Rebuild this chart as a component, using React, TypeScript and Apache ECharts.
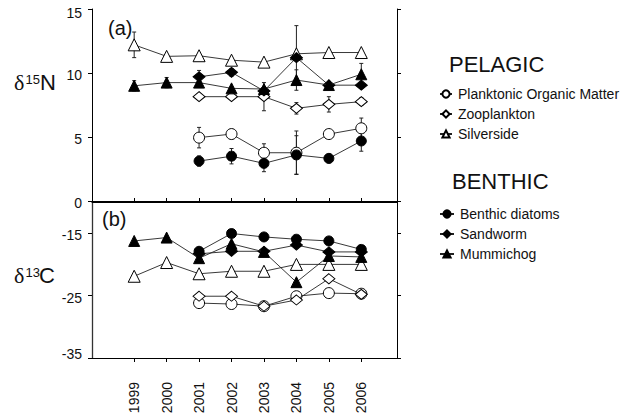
import React, { useEffect, useRef } from 'react';
import * as echarts from 'echarts';

// ---- data ----
const years = [1999, 2000, 2001, 2002, 2003, 2004, 2005, 2006];
const pelagicNames = ['Planktonic Organic Matter', 'Zooplankton', 'Silverside'];
const benthicNames = ['Benthic diatoms', 'Sandworm', 'Mummichog'];

// δ15N (panel a)
const pomN = [null, null, 4.95, 5.23, 3.77, 3.77, 5.23, 5.68];
const zooN = [null, null, 8.15, 8.15, 8.15, 7.24, 7.55, 7.76];
const silN = [12.2, 11.3, 11.35, 11.0, 10.85, 11.5, 11.6, 11.6];
const diaN = [null, null, 3.12, 3.5, 2.94, 3.6, 3.33, 4.69];
const sanN = [null, null, 9.7, 10.05, 8.6, 11.2, 9.05, 9.05];
const mumN = [9.0, 9.25, 9.25, 8.8, 8.75, 9.45, 9.06, 9.9];

// δ15N error bars (half widths)
const pomNErr = [null, null, 0.8, null, 0.7, 1.7, 0.3, 0.8];
const zooNErr = [null, null, null, null, 1.1, 0.45, 0.6, 0.3];
const silNErr = [1.0, null, null, null, null, 2.2, null, null];
const diaNErr = [null, null, 0.4, 0.6, 0.65, 1.5, 0.35, 0.8];
const sanNErr = [null, null, 0.5, 0.3, null, null, null, null];
const mumNErr = [0.4, 0.4, 0.3, null, null, 0.8, 0.3, 0.85];

// δ13C (panel b)
const pomC = [null, null, -26.2, -26.35, -26.7, -25.1, -24.6, -24.7];
const zooC = [null, null, -25.1, -25.1, -26.7, -25.7, -22.3, -24.8];
const silC = [-21.9, -19.7, -21.5, -21.1, -21.1, -20.0, -20.0, -20.0];
const diaC = [null, null, -17.9, -15.05, -15.6, -15.97, -16.24, -17.6];
const sanC = [null, null, -18.3, -17.9, -17.9, -16.9, -18.0, -18.0];
const mumC = [-16.24, -15.7, -19.0, -16.7, -18.0, -22.85, -18.65, -18.8];

const nTicks = [0, 5, 10, 15];
const cTicks = [-35, -25, -15];

const FONT = 'Liberation Sans, Arial, Helvetica, sans-serif';
const INK = '#111';

type Sty = { symbol: string; fill: string; size: number | number[] };
const styles: Sty[] = [
  { symbol: 'circle', fill: '#fff', size: 11 },
  { symbol: 'diamond', fill: '#fff', size: [12, 10] },
  { symbol: 'triangle', fill: '#fff', size: 12 },
  { symbol: 'circle', fill: '#000', size: 10 },
  { symbol: 'diamond', fill: '#000', size: [12, 10] },
  { symbol: 'triangle', fill: '#000', size: 11 },
];
const names = [...pelagicNames, ...benthicNames];
const nSets = [pomN, zooN, silN, diaN, sanN, mumN];
const nErrs = [pomNErr, zooNErr, silNErr, diaNErr, sanNErr, mumNErr];
const cSets = [pomC, zooC, silC, diaC, sanC, mumC];

const pts = (arr: (number | null)[]) =>
  years.map((y, i) => [y, arr[i]]).filter((p) => p[1] !== null);

export default function App() {
  const ref = useRef<HTMLDivElement>(null);
  useEffect(() => {
    if (!ref.current) return;
    const chart = echarts.init(ref.current, null, { renderer: 'svg' });

    const errData: number[][] = [];
    nSets.forEach((arr, s) => {
      arr.forEach((v, i) => {
        const e = nErrs[s][i];
        if (v !== null && e !== null) errData.push([years[i], v - e, v + e]);
      });
    });

    const axisLine = { show: true, lineStyle: { color: '#000', width: 1 } };
    const xMin = 1997.7;
    const xMax = 2007.1;

    const lineSeries = (grid: number, sets: (number | null)[][]) =>
      sets.map((arr, s) => ({
        type: 'line',
        name: names[s],
        xAxisIndex: grid * 2,
        yAxisIndex: grid * 2,
        data: pts(arr),
        symbol: styles[s].symbol,
        symbolSize: styles[s].size,
        showAllSymbol: true,
        lineStyle: { color: '#222', width: 0.9 },
        itemStyle: { color: styles[s].fill, borderColor: '#000', borderWidth: 1 },
        z: 3 + s,
      }));

    const option: any = {
      animation: false,
      textStyle: { fontFamily: FONT },
      grid: [
        { left: 92, top: 9, width: 305, height: 192 },
        { left: 92, top: 202, width: 305, height: 156 },
      ],
      xAxis: [
        {
          type: 'value', gridIndex: 0, position: 'bottom', min: xMin, max: xMax,
          axisLine, splitLine: { show: false }, axisLabel: { show: false },
          axisTick: { show: true, inside: true, length: 3, customValues: years, lineStyle: { color: '#000' } },
        },
        {
          type: 'value', gridIndex: 0, position: 'top', min: xMin, max: xMax,
          axisLine, splitLine: { show: false }, axisLabel: { show: false },
          axisTick: { show: true, length: 3, customValues: years, lineStyle: { color: '#000' } },
        },
        {
          type: 'value', gridIndex: 1, position: 'bottom', min: xMin, max: xMax,
          axisLine, splitLine: { show: false },
          axisLabel: {
            show: true, rotate: 90, margin: 24, fontSize: 14, color: INK, fontFamily: FONT,
            customValues: years, formatter: (v: number) => String(Math.round(v)),
          },
          axisTick: { show: true, length: 4, customValues: years, lineStyle: { color: '#000' } },
        },
        {
          type: 'value', gridIndex: 1, position: 'top', min: xMin, max: xMax,
          axisLine, splitLine: { show: false }, axisLabel: { show: false },
          axisTick: { show: false },
        },
      ],
      yAxis: [
        {
          type: 'value', gridIndex: 0, position: 'left', min: 0, max: 15, interval: 5,
          axisLine, splitLine: { show: false },
          axisTick: { show: true, length: 4, lineStyle: { color: '#000' } },
          axisLabel: {
            show: true, margin: 10, fontSize: 14, color: INK, fontFamily: FONT,
            formatter: (v: number) => (v === 15 ? '{dn|15}' : '{n|' + v + '}'),
            rich: {
              n: { fontSize: 14, color: INK, fontFamily: FONT, padding: [3, 0, 0, 0] },
              dn: { fontSize: 14, color: INK, fontFamily: FONT, padding: [8, 0, 0, 0] },
            },
          },
        },
        {
          type: 'value', gridIndex: 0, position: 'right', min: 0, max: 15, interval: 5,
          axisLine, splitLine: { show: false }, axisLabel: { show: false },
          axisTick: { show: true, length: 4, lineStyle: { color: '#000' } },
        },
        {
          type: 'value', gridIndex: 1, position: 'left', min: -35, max: -10,
          axisLine: { show: true, lineStyle: { color: '#333', width: 1.3 } }, splitLine: { show: false },
          axisTick: { show: true, length: 4, customValues: cTicks, lineStyle: { color: '#000' } },
          axisLabel: {
            show: true, margin: 10, fontSize: 14, color: INK, fontFamily: FONT,
            customValues: cTicks,
            formatter: (v: number) => (v === -35 ? '{up|-35}' : '{n|' + v + '}'),
            rich: {
              n: { fontSize: 14, color: INK, fontFamily: FONT, padding: [4, 0, 0, 0] },
              up: { fontSize: 14, color: INK, fontFamily: FONT, padding: [0, 0, 9, 0] },
            },
          },
        },
        {
          type: 'value', gridIndex: 1, position: 'right', min: -35, max: -10,
          axisLine, splitLine: { show: false }, axisLabel: { show: false },
          axisTick: { show: true, length: 4, customValues: cTicks, lineStyle: { color: '#000' } },
        },
      ],
      legend: [
        {
          data: pelagicNames, orient: 'vertical', left: 434, top: 82, itemWidth: 12, itemHeight: 9,
          itemGap: 6, selectedMode: false,
          textStyle: { fontSize: 14, color: INK, fontFamily: FONT, padding: [0, 0, 0, 1] },
        },
        {
          data: benthicNames, orient: 'vertical', left: 434, top: 202, itemWidth: 14, itemHeight: 9,
          itemGap: 6, selectedMode: false,
          textStyle: { fontSize: 14, color: INK, fontFamily: FONT, padding: [0, 0, 0, 1] },
        },
      ],
      graphic: [
        { type: 'text', left: 449, top: 53, style: { text: 'PELAGIC', font: '22px ' + FONT, fill: INK } },
        { type: 'text', left: 452, top: 170, style: { text: 'BENTHIC', font: '22px ' + FONT, fill: INK } },
        { type: 'text', x: 108, y: 27.5, style: { text: '(a)', font: '20px ' + FONT, fill: INK, verticalAlign: 'middle' } },
        { type: 'text', x: 102, y: 218.5, style: { text: '(b)', font: '20px ' + FONT, fill: INK, verticalAlign: 'middle' } },
        { type: 'text', x: 14, y: 82.5, style: { text: 'δ', font: '22px Liberation Serif, Times New Roman, serif', fill: INK, verticalAlign: 'middle' } },
        { type: 'text', x: 25.5, y: 79.5, style: { text: '15', font: '13px ' + FONT, fill: INK, verticalAlign: 'middle' } },
        { type: 'text', x: 40, y: 82.3, style: { text: 'N', font: '22px ' + FONT, fill: INK, verticalAlign: 'middle' } },
        { type: 'text', x: 14, y: 275.8, style: { text: 'δ', font: '22px Liberation Serif, Times New Roman, serif', fill: INK, verticalAlign: 'middle' } },
        { type: 'text', x: 25.5, y: 272.8, style: { text: '13', font: '13px ' + FONT, fill: INK, verticalAlign: 'middle' } },
        { type: 'text', x: 39, y: 275.6, style: { text: 'C', font: '22px ' + FONT, fill: INK, verticalAlign: 'middle' } },
      ],
      series: [
        {
          type: 'custom',
          name: 'error bars',
          xAxisIndex: 0,
          yAxisIndex: 0,
          z: 1,
          data: errData,
          encode: { x: 0, y: [1, 2] },
          renderItem: (params: any, api: any) => {
            const x = api.value(0);
            const top = api.coord([x, api.value(2)]);
            const bot = api.coord([x, api.value(1)]);
            const cap = 2;
            const style = { stroke: '#222', lineWidth: 1 };
            return {
              type: 'group',
              children: [
                { type: 'line', shape: { x1: top[0], y1: top[1], x2: bot[0], y2: bot[1] }, style },
                { type: 'line', shape: { x1: top[0] - cap, y1: top[1], x2: top[0] + cap, y2: top[1] }, style },
                { type: 'line', shape: { x1: bot[0] - cap, y1: bot[1], x2: bot[0] + cap, y2: bot[1] }, style },
              ],
            };
          },
        },
        ...lineSeries(0, nSets),
        ...lineSeries(1, cSets),
      ],
    };
    chart.setOption(option);
    return () => chart.dispose();
  }, []);

  return (
    <div
      ref={ref}
      style={{ position: 'fixed', left: 0, top: 0, width: 635, height: 419, background: '#fff' }}
    />
  );
}
